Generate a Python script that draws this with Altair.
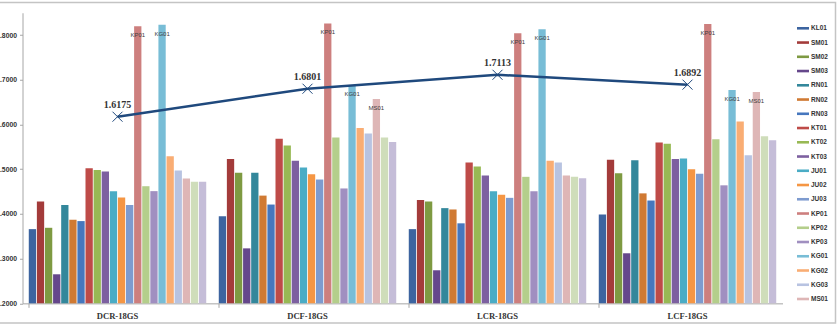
import altair as alt
import pandas as pd

groups = ["DCR-18GS", "DCF-18GS", "LCR-18GS", "LCF-18GS"]
series = ["KL01", "SM01", "SM02", "SM03", "RN01", "RN02", "RN03", "KT01", "KT02", "KT03",
          "JU01", "JU02", "JU03", "KP01", "KP02", "KP03", "KG01", "KG02", "KG03", "MS01",
          "MS02", "MS03"]

dcr = [1.366, 1.428, 1.369, 1.265, 1.420, 1.387, 1.384, 1.502, 1.498, 1.495, 1.451,
       1.437, 1.420, 1.820, 1.462, 1.451, 1.823, 1.529, 1.497, 1.479, 1.472, 1.472]
dcf = [1.395, 1.523, 1.492, 1.323, 1.492, 1.441, 1.421, 1.568, 1.553, 1.519, 1.504,
       1.489, 1.477, 1.826, 1.571, 1.457, 1.688, 1.592, 1.580, 1.657, 1.571, 1.561]
lcr = [1.366, 1.431, 1.428, 1.274, 1.413, 1.410, 1.379, 1.515, 1.506, 1.486, 1.451,
       1.443, 1.436, 1.804, 1.483, 1.451, 1.813, 1.519, 1.515, 1.486, 1.483, 1.480]
lcf = [1.399, 1.521, 1.491, 1.312, 1.520, 1.446, 1.430, 1.560, 1.557, 1.523, 1.524,
       1.500, 1.490, 1.825, 1.567, 1.464, 1.677, 1.607, 1.531, 1.673, 1.574, 1.565]

trend = [1.6175, 1.6801, 1.7113, 1.6892]

tagged = {
    "DCR-18GS": ["KP01", "KG01"],
    "DCF-18GS": ["KP01", "KG01", "MS01"],
    "LCR-18GS": ["KP01", "KG01"],
    "LCF-18GS": ["KP01", "KG01", "MS01"],
}

palette = ["#3C64A0", "#A33B3A", "#7E9A42", "#65478B", "#33879B", "#D07A33", "#4677BE",
           "#BE4B48", "#98B954", "#7D60A0", "#4AACC5", "#F59644", "#7E9BCF", "#CD7F7E",
           "#B4CE8B", "#A08FC0", "#78BDD6", "#F9AD74", "#B8C3E1", "#DEB6B6", "#CFDDBA",
           "#C5BDD8"]

# the key lists the first twenty series only
legend_items = series[:20]

rows = []
for g, vals in zip(groups, [dcr, dcf, lcr, lcf]):
    for s, v in zip(series, vals):
        rows.append({"group": g, "series": s, "value": v,
                     "tag": s if s in tagged[g] else ""})
bars_df = pd.DataFrame(rows)
trend_df = pd.DataFrame({"group": groups, "value": trend})
legend_df = pd.DataFrame({"series": legend_items})

x_scale = alt.Scale(domain=groups, paddingInner=0.066, paddingOuter=0.033)
y_scale = alt.Scale(domain=[1.2, 1.85], nice=False, zero=False)
off_scale = alt.Scale(domain=series, paddingInner=0.1)
color_scale = alt.Scale(domain=series, range=palette)

x_axis = alt.Axis(title=None, bandPosition=0, labelAngle=0,
                  labelFont="Liberation Serif", labelFontWeight="bold",
                  labelFontSize=8.6, labelColor="#333333",
                  domainColor="#A6A6A6", tickColor="#A6A6A6",
                  tickSize=4, labelPadding=4, grid=False)
y_axis = alt.Axis(title=None, values=[1.2, 1.3, 1.4, 1.5, 1.6, 1.7, 1.8],
                  format=".4f", labelFont="Liberation Sans",
                  labelFontWeight="bold", labelFontSize=6.8,
                  labelColor="#333333", domainColor="#A6A6A6",
                  tickColor="#A6A6A6", tickSize=3, labelPadding=3, grid=False)

X = alt.X("group:N", scale=x_scale, axis=x_axis, sort=groups)
Y = alt.Y("value:Q", scale=y_scale, axis=y_axis)
OFF = alt.XOffset("series:N", scale=off_scale, sort=series)
COLOR = alt.Color("series:N", scale=color_scale, legend=None, sort=series)

# outer chart frame
frame = alt.Chart(pd.DataFrame({"k": [0]})).mark_rect(
    fillOpacity=0, stroke="#C4C4C4", strokeWidth=1.5
).encode(x=alt.value(-50), x2=alt.value(813),
         y=alt.value(-10.25), y2=alt.value(310.25))

bars = alt.Chart(bars_df).mark_bar().encode(
    x=X, xOffset=OFF, y=Y, y2=alt.datum(1.2), color=COLOR
)

bar_tags = alt.Chart(bars_df).transform_filter(
    alt.datum.tag != ""
).mark_text(dy=9, fontSize=6, font="Liberation Sans", color="#404040").encode(
    x=X, xOffset=OFF, y=Y, text="tag:N"
)

line = alt.Chart(trend_df).mark_line(color="#1F497D", strokeWidth=2.5).encode(
    x=X, y=Y
)
markers = alt.Chart(trend_df).mark_point(
    shape="M-1,-1L1,1M-1,1L1,-1", size=100, filled=False,
    color="#1F497D", strokeWidth=1, opacity=1
).encode(x=X, y=Y)
trend_labels = alt.Chart(trend_df).mark_text(
    dy=-12, font="Liberation Serif", fontWeight="bold", fontSize=10,
    color="#333333"
).encode(x=X, y=Y, text=alt.Text("value:Q", format=".4f"))

plot = alt.layer(bars, bar_tags, line, markers, trend_labels)

# key on the right: one row per series, spaced by a point scale
KEY_Y = alt.Y("series:N", sort=legend_items, axis=None,
              scale=alt.Scale(type="point", domain=legend_items,
                              range=[15.55, 286.25], padding=0))
key_swatch = alt.Chart(legend_df).mark_tick(
    orient="horizontal", thickness=2.6, size=12, opacity=1
).encode(y=KEY_Y, x=alt.value(780.5), color=COLOR)
key_text = alt.Chart(legend_df).mark_text(
    align="left", baseline="middle", font="Liberation Sans", fontWeight="bold",
    fontSize=6.5, color="#333333"
).encode(y=KEY_Y, x=alt.value(788.5), text="series:N")

chart = alt.layer(frame, key_swatch, key_text, plot).resolve_scale(
    y="independent"
).properties(
    width=760, height=290.6,
    autosize=alt.AutoSizeParams(type="none"),
    padding={"left": 22.5, "top": 12.75, "right": 55.5, "bottom": 24.65},
    background="white",
).configure_view(stroke=None)

chart.save("out.html", embed_options={"renderer": "svg", "actions": False})
